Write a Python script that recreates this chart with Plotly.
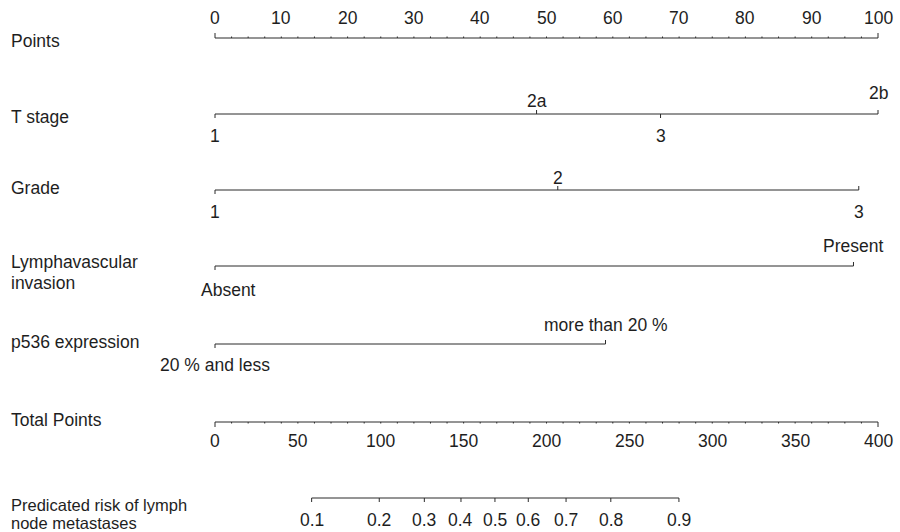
import plotly.graph_objects as go

# ---- nomogram content -------------------------------------------------
points_ticks = [0, 10, 20, 30, 40, 50, 60, 70, 80, 90, 100]
points_minor_step = 2.5

t_stage_levels = ["1", "2a", "3", "2b"]
t_stage_points = [0, 48.5, 67.2, 100]

grade_levels = ["1", "2", "3"]
grade_points = [0, 51.7, 97.1]

lvi_levels = ["Absent", "Present"]
lvi_points = [0, 96.3]

p536_levels = ["20 % and less", "more than 20 %"]
p536_points = [0, 58.9]

total_ticks = [0, 50, 100, 150, 200, 250, 300, 350, 400]
total_minor_step = 10
total_max = 400

risk_labels = ["0.1", "0.2", "0.3", "0.4", "0.5", "0.6", "0.7", "0.8", "0.9"]
risk_total_points = [58.3, 99.1, 126.3, 148.4, 168.9, 189.0, 211.8, 238.8, 279.9]

# ---- layout helpers -------------------------------------------------
W, H = 900, 532
X0_PX, PX_PER_PT = 215, 6.63
LINE = "#2b2b2b"
TEXT = "#1e1e1e"
FONT = "Liberation Sans, Arial, Helvetica, sans-serif"
FS = 17.5
LEFT_PX = 9

fig = go.Figure()
annotations = []


def seg_trace(xs_pairs, width=1):
    xs, ys = [], []
    for (x1, y1, x2, y2) in xs_pairs:
        xs += [x1, x2, None]
        ys += [y1, y2, None]
    fig.add_trace(go.Scatter(x=xs, y=ys, mode="lines", hoverinfo="skip",
                             line=dict(color=LINE, width=width), showlegend=False))


def label(x, y, text, anchor="center", size=FS):
    annotations.append(dict(x=x, y=y, text=text, showarrow=False, xanchor=anchor,
                            yanchor="middle", font=dict(family=FONT, size=size, color=TEXT)))


def side_label(y, text, size=FS):
    annotations.append(dict(x=LEFT_PX / W, y=y, xref="paper", text=text, showarrow=False,
                            xanchor="left", yanchor="middle", align="left",
                            font=dict(family=FONT, size=size, color=TEXT)))


# Points scale (ticks upward)
y_pts = 38
segs = [(0, y_pts, 100, y_pts)]
n_minor = int(100 / points_minor_step)
for i in range(n_minor + 1):
    v = i * points_minor_step
    h = 5 if v in (0, 100) else 1.5
    segs.append((v, y_pts, v, y_pts - h))
seg_trace(segs)
for v in points_ticks:
    label(v, 18, str(v))
side_label(41, "Points")


def variable_row(y, pts, names, offsets, tick_dirs, xshift=None):
    s = [(min(pts), y, max(pts), y)]
    for p, d in zip(pts, tick_dirs):
        s.append((p, y, p, y + 4 * d))
    seg_trace(s)
    for i, (p, n, off) in enumerate(zip(pts, names, offsets)):
        dx = xshift[i] if xshift else 0
        label(p + dx, y + off, n)


# T stage
variable_row(114, t_stage_points, t_stage_levels, [22, -13, 22, -21], [1, -1, 1, -1])
side_label(117, "T stage")

# Grade
variable_row(190, grade_points, grade_levels, [22, -12, 22], [1, -1, -1])
side_label(188, "Grade")

# Lymphavascular invasion
variable_row(266, lvi_points, lvi_levels, [24, -20], [1, -1], xshift=[2.1, 0])
side_label(262, "Lymphavascular")
side_label(283, "invasion")

# p536 expression
variable_row(344, p536_points, p536_levels, [21, -19], [1, -1])
side_label(342, "p536 expression")

# Total points scale (ticks downward), mapped onto the points scale
y_tot = 422
scale = 100 / total_max
segs = [(0, y_tot, total_max * scale, y_tot)]
for i in range(int(total_max / total_minor_step) + 1):
    v = i * total_minor_step
    h = 5 if v in (0, total_max) else 1.5
    segs.append((v * scale, y_tot, v * scale, y_tot + h))
seg_trace(segs)
for v in total_ticks:
    label(v * scale, 441, str(v))
side_label(420, "Total Points")

# Predicted risk scale
y_risk = 498
rx = [t * scale for t in risk_total_points]
segs = [(rx[0], y_risk, rx[-1], y_risk)]
for x in rx:
    segs.append((x, y_risk, x, y_risk + 4))
seg_trace(segs)
for x, t in zip(rx, risk_labels):
    label(x, 520, t)
side_label(505, "Predicated risk of lymph", size=16.5)
side_label(523, "node metastases", size=16.5)

fig.update_layout(
    width=W, height=H,
    margin=dict(l=0, r=0, t=0, b=0),
    paper_bgcolor="white", plot_bgcolor="white",
    xaxis=dict(range=[-X0_PX / PX_PER_PT, (W - X0_PX) / PX_PER_PT], visible=False, fixedrange=True),
    yaxis=dict(range=[H, 0], visible=False, fixedrange=True),
    annotations=annotations,
    showlegend=False,
)

fig.write_html("out.html")
